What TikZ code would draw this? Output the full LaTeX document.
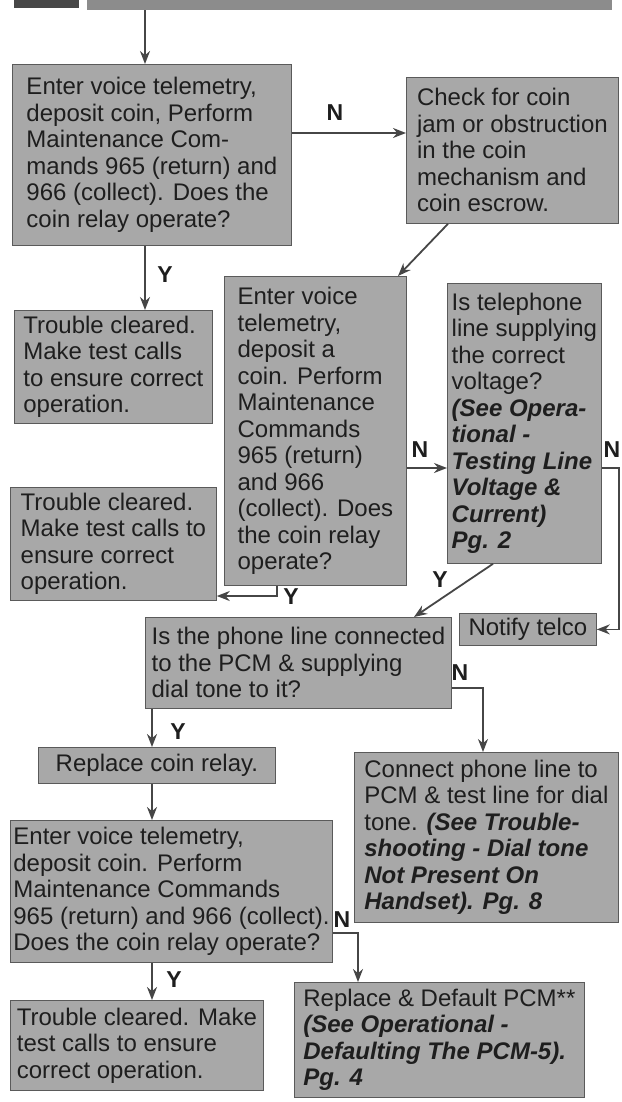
\documentclass[tikz,border=0pt]{standalone}
\usepackage{fontspec}
\setmainfont{Liberation Sans}
\usetikzlibrary{arrows.meta}
\definecolor{boxfill}{RGB}{168,168,168}
\definecolor{boxline}{RGB}{90,90,90}
\definecolor{ink}{RGB}{30,30,30}
\definecolor{wirecol}{RGB}{70,70,70}
\newcommand{\bitxt}[1]{{\bfseries\itshape #1}}
\begin{document}
\begin{tikzpicture}[x=1pt,y=-1pt,
  box/.style={draw=boxline, line width=0.8pt, fill=boxfill, text=ink, align=left,
    inner xsep=3pt, inner ysep=3pt, anchor=north west,
    font=\fontsize{24}{26.5}\selectfont},
  lbl/.style={font=\fontsize{23}{25}\selectfont\bfseries, text=ink, inner sep=0pt},
  arr/.style={draw=wirecol, line width=1.8pt, -{Stealth[length=13pt,width=10pt]}},
  hdr/.style={draw=none, anchor=north west, inner sep=0pt}]
\fill[white] (0,0) rectangle (621,1102);
\useasboundingbox (0,0) rectangle (621,1102);

% header
\node[hdr, fill=black!72, minimum width=65pt, minimum height=8pt] (hdrA) at (14,0) {};
\node[hdr, fill=black!45, minimum width=525pt, minimum height=10pt] (hdrB) at (87,0) {};

% boxes
\node[box, minimum width=279pt, minimum height=181pt] (b1) at (12,64)
  {Enter voice telemetry,\\deposit coin, Perform\\Maintenance Com-\\mands 965 (return) and\\966 (collect). Does the\\coin relay operate?};
\node[box, minimum width=212pt, minimum height=146pt] (chk) at (406,77)
  {Check for coin\\jam or obstruction\\in the coin\\mechanism and\\coin escrow.};
\node[box, minimum width=198pt, minimum height=113pt] (tc1) at (14,310)
  {Trouble cleared.\\Make test calls\\to ensure correct\\operation.};
\node[box, minimum width=182pt, minimum height=309pt] (q2) at (224,276)
  {Enter voice\\telemetry,\\deposit a\\coin. Perform\\Maintenance\\Commands\\965 (return)\\and 966\\(collect). Does\\the coin relay\\operate?};
\node[box, minimum width=154pt, minimum height=280pt] (volt) at (447,283)
  {Is telephone\\line supplying\\the correct\\voltage?\\\bitxt{(See Opera-}\\\bitxt{tional -}\\\bitxt{Testing Line}\\\bitxt{Voltage \&}\\\bitxt{Current)}\\\bitxt{Pg. 2}};
\node[box, minimum width=206pt, minimum height=113pt] (tc2) at (10,487)
  {Trouble cleared.\\Make test calls to\\ensure correct\\operation.};
\node[box, minimum width=306pt, minimum height=91pt] (phone) at (145,617)
  {Is the phone line connected\\to the PCM \& supplying\\dial tone to it?};
\node[box, minimum width=137pt, minimum height=32pt] (notify) at (459,613)
  {Notify telco};
\node[box, minimum width=237pt, minimum height=36pt] (repl) at (38,747)
  {Replace coin relay.};
\node[box, minimum width=264pt, minimum height=170pt] (conn) at (354,752)
  {Connect phone line to\\PCM \& test line for dial\\tone. \bitxt{(See Trouble-}\\\bitxt{shooting - Dial tone}\\\bitxt{Not Present On}\\\bitxt{Handset). Pg. 8}};
\node[box, minimum width=319pt, minimum height=142pt] (q3) at (10,820)
  {Enter voice telemetry,\\deposit coin. Perform\\Maintenance Commands\\965 (return) and 966 (collect).\\Does the coin relay operate?};
\node[box, minimum width=290pt, minimum height=115pt] (pcm) at (294,982)
  {Replace \& Default PCM**\\\bitxt{(See Operational -}\\\bitxt{Defaulting The PCM-5).}\\\bitxt{Pg. 4}};
\node[box, minimum width=253pt, minimum height=90pt] (tc3) at (10,1000)
  {Trouble cleared. Make\\test calls to ensure\\correct operation.};

% helper coordinates
\coordinate (v1) at (145,0);
\coordinate (yN1) at (0,133);
\coordinate (d1s) at (448,0);
\coordinate (d1e) at (398,0);
\coordinate (yN2) at (0,468);
\coordinate (x2) at (277,0);
\coordinate (y2) at (0,596);
\coordinate (rx) at (619,0);
\coordinate (d2s) at (493,0);
\coordinate (d2e) at (414,0);
\coordinate (yN3) at (0,688);
\coordinate (x3) at (483,0);
\coordinate (v2) at (152,0);
\coordinate (yN4) at (0,933);
\coordinate (x4) at (358,0);

% connectors
\draw[arr] (hdrB.south -| v1) -- (b1.north -| v1);
\draw[arr] (b1.east |- yN1) -- (chk.west |- yN1);
\draw[arr] (b1.south -| v1) -- (tc1.north -| v1);
\draw[arr] (chk.south -| d1s) -- (q2.north -| d1e);
\draw[arr] (q2.east |- yN2) -- (volt.west |- yN2);
\draw[arr] (q2.south -| x2) -- (x2 |- y2) -- (tc2.east |- y2);
\draw[arr] (volt.east |- yN2) -- (rx |- yN2) -- (rx |- notify.east) -- (notify.east);
\draw[arr] (volt.south -| d2s) -- (phone.north -| d2e);
\draw[arr] (phone.east |- yN3) -- (x3 |- yN3) -- (conn.north -| x3);
\draw[arr] (phone.south -| v2) -- (repl.north -| v2);
\draw[arr] (repl.south -| v2) -- (q3.north -| v2);
\draw[arr] (q3.east |- yN4) -- (x4 |- yN4) -- (pcm.north -| x4);
\draw[arr] (q3.south -| v2) -- (tc3.north -| v2);

% labels
\node[lbl] (lN1) at (335,113) {N};
\node[lbl] (lY1) at (165,275) {Y};
\node[lbl] (lN2) at (420,450) {N};
\node[lbl] (lN3) at (612,450) {N};
\node[lbl] (lY2) at (291,597) {Y};
\node[lbl] (lY3) at (440,580) {Y};
\node[lbl] (lN4) at (460,673) {N};
\node[lbl] (lY4) at (178,732) {Y};
\node[lbl] (lN5) at (342,920) {N};
\node[lbl] (lY5) at (174,980) {Y};
\end{tikzpicture}
\end{document}
